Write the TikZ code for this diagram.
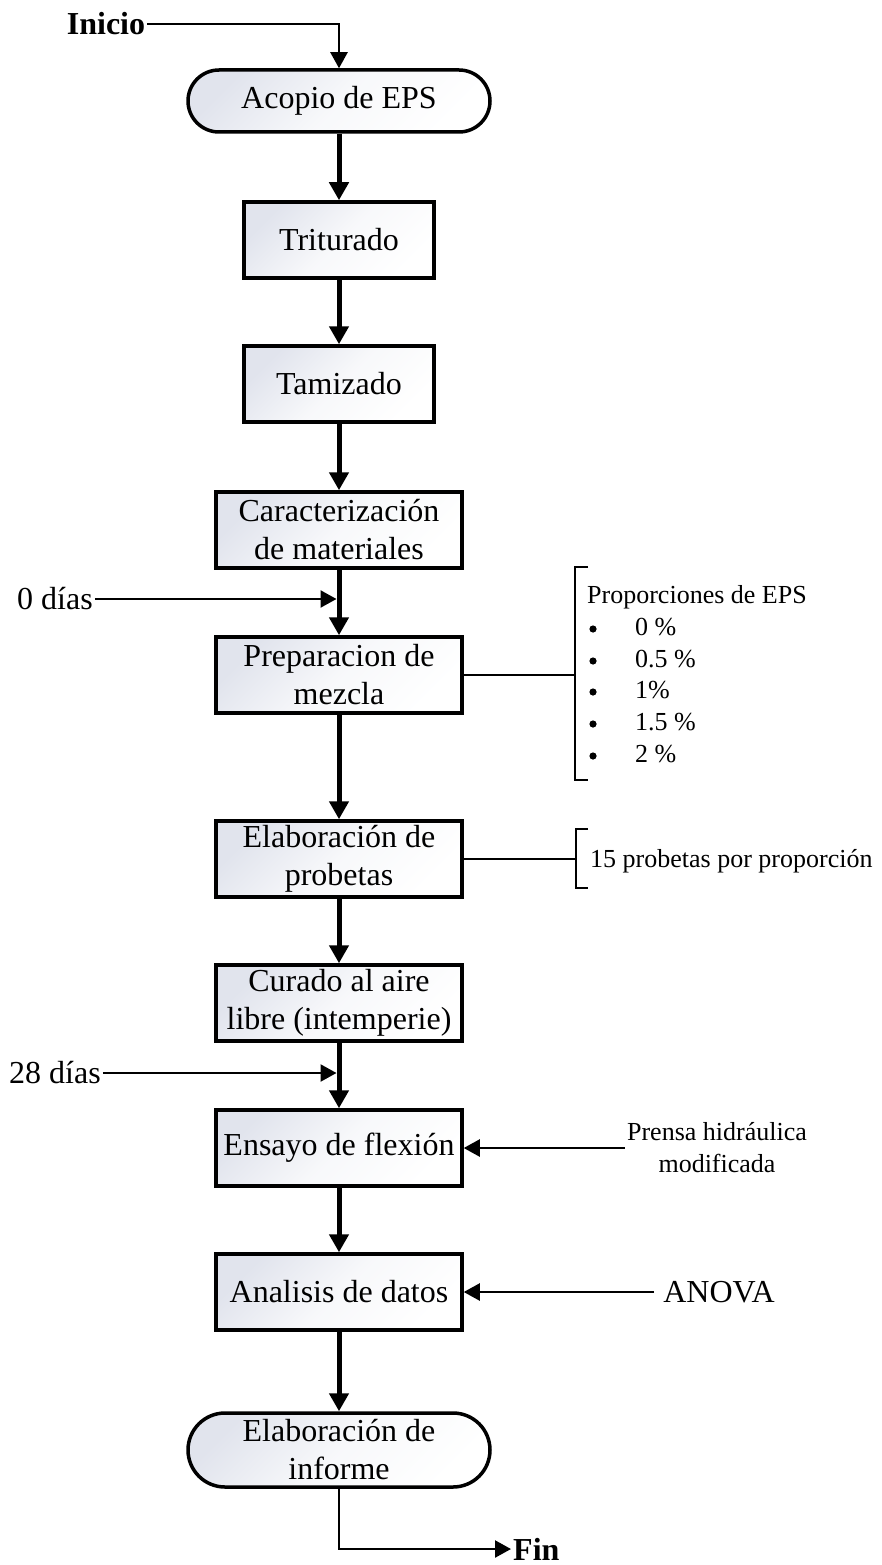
\documentclass[tikz,border=0pt]{standalone}
\usepackage{fontspec}
\setmainfont{Liberation Serif}
\usetikzlibrary{arrows.meta}
\definecolor{boxc}{RGB}{225,228,237}
\tikzset{
  big/.style={font=\fontsize{32}{38}\selectfont},
  small/.style={font=\fontsize{26}{32}\selectfont},
  procbox/.style={draw, line width=3.5pt, big, align=center, top color=boxc, bottom color=white, middle color=boxc!25!white, shading angle=45, minimum height=76pt, inner sep=0pt},
  narrow/.style={procbox, minimum width=190pt},
  wide/.style={procbox, minimum width=246pt},
  term/.style={procbox, minimum width=302pt},
  flow/.style={line width=5pt, -{Triangle[width=19pt,length=18pt]}},
  thinline/.style={line width=2.3pt},
  thinarrow/.style={thinline, -{Triangle[width=17pt,length=16pt]}},
  lbl/.style={big, inner sep=2pt},
}
\begin{document}
\begin{tikzpicture}[x=1pt,y=-1pt]
\useasboundingbox (0,0) rectangle (881,1565);
% main column
\node[term, rounded corners=31pt, minimum height=62pt] (acopio) at (339,101) {Acopio de EPS};
\node[narrow] (trit) at (339,240) {Triturado};
\node[narrow] (tam) at (339,384) {Tamizado};
\node[wide] (carac) at (339,530) {Caracterización\\de materiales};
\node[wide] (prep) at (339,675) {Preparacion de\\mezcla};
\node[wide] (elab) at (339,859) {Elaboración de\\probetas};
\node[wide] (cur) at (339,1003) {Curado al aire\\libre (intemperie)};
\node[wide] (ens) at (339,1148) {Ensayo de flexión};
\node[wide] (ana) at (339,1292) {Analisis de datos};
\node[term, rounded corners=37pt, minimum height=74pt] (inf) at (339,1450) {Elaboración de\\informe};
% start / end
\node[lbl, font=\fontsize{32}{38}\selectfont\bfseries] (inicio) at (106,24) {Inicio};
\node[lbl, font=\fontsize{32}{38}\selectfont\bfseries, anchor=west, inner ysep=0pt] (fin) at (511,1549) {Fin};
\draw[thinarrow] (inicio.east) -| (acopio.north);
\draw[thinarrow] (inf.south) |- (fin.west);
% main flow
\draw[flow] (acopio) -- (trit);
\draw[flow] (trit) -- (tam);
\draw[flow] (tam) -- (carac);
\draw[flow] (carac) -- (prep);
\draw[flow] (prep) -- (elab);
\draw[flow] (elab) -- (cur);
\draw[flow] (cur) -- (ens);
\draw[flow] (ens) -- (ana);
\draw[flow] (ana) -- (inf);
% day markers
\node[lbl] (d0) at (55,599) {0 días};
\node[lbl] (d28) at (55,1073) {28 días};
\coordinate (j0) at (336.5,599);
\coordinate (j28) at (336.5,1073);
\draw[thinarrow] (d0.east) -- (j0);
\draw[thinarrow] (d28.east) -- (j28);
% side inputs
\node[small, align=center, inner xsep=2pt, inner ysep=0pt] (prensa) at (717,1148) {Prensa hidráulica\\modificada};
\draw[thinarrow] (prensa.west) -- (ens.east);
\node[big, inner xsep=9pt, inner ysep=0pt] (anova) at (719,1292) {ANOVA};
\draw[thinarrow] (anova.west) -- (ana.east);
% bracket 1
\coordinate (b1) at (575,675);
\draw[thinline] (prep.east) -- (b1);
\draw[thinline] (588,567) -- (575,567) -- (575,780) -- (588,780);
\node[small, anchor=base west, inner sep=0pt] (prop) at (587,603) {Proporciones de EPS};
\foreach \v/\b [count=\i] in {0 \%/635, 0.5 \%/667, 1\%/698, 1.5 \%/730, 2 \%/762}{
  \fill (593,\b-6) circle (3.6pt);
  \node[small, anchor=base west, inner sep=0pt] (p\i) at (635,\b) {\v};
}
% bracket 2
\coordinate (b2) at (576,859);
\draw[thinline] (elab.east) -- (b2);
\draw[thinline] (588,829) -- (576,829) -- (576,888) -- (588,888);
\node[small, anchor=base west, inner sep=0pt] (quince) at (590,867) {15 probetas por proporción};
\end{tikzpicture}
\end{document}
